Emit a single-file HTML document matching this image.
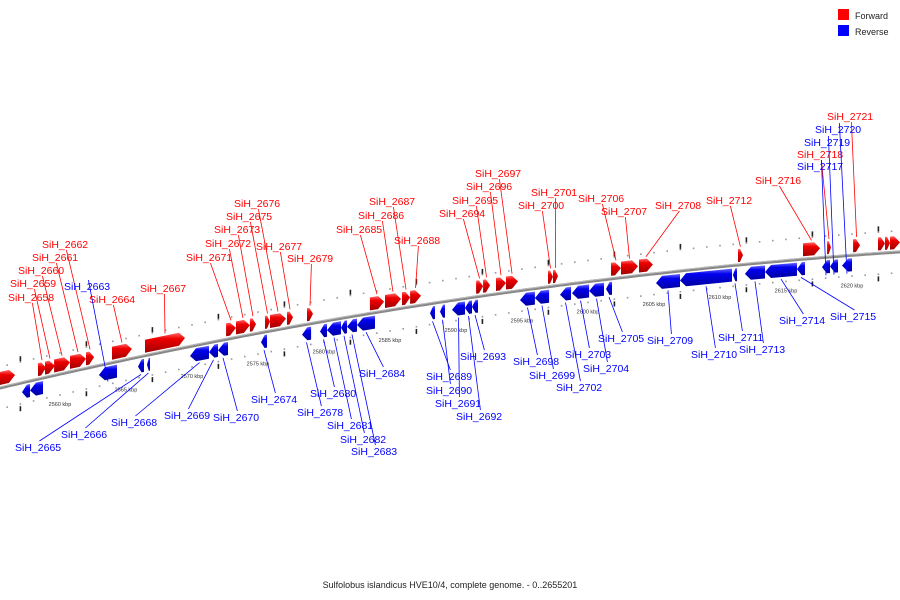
<!DOCTYPE html>
<html><head><meta charset="utf-8"><style>
html,body{margin:0;padding:0;background:#fff;}
svg{display:block;font-family:"Liberation Sans","DejaVu Sans",sans-serif;}
</style></head><body>
<svg id="map" width="900" height="600" viewBox="0 0 900 600">
<defs>
<linearGradient id="gr" x1="0" y1="0" x2="0" y2="1"><stop offset="0" stop-color="#ff6a6a"/><stop offset="0.3" stop-color="#ee0000"/><stop offset="1" stop-color="#a00000"/></linearGradient>
<linearGradient id="gb" x1="0" y1="0" x2="0" y2="1"><stop offset="0" stop-color="#6a6aff"/><stop offset="0.3" stop-color="#0000ee"/><stop offset="1" stop-color="#0000a0"/></linearGradient>
</defs>
<g>
<rect x="838" y="9" width="11" height="11" fill="#f00"/>
<text x="855" y="19" font-size="9" fill="#222">Forward</text>
<rect x="838" y="25" width="11" height="11" fill="#00f"/>
<text x="855" y="35" font-size="9" fill="#222">Reverse</text>
</g>
<text x="450" y="588" text-anchor="middle" font-size="9" fill="#222">Sulfolobus islandicus HVE10/4, complete genome. - 0..2655201</text>
</svg>
<script>
const geneNames=["","SiH_2658","SiH_2659","SiH_2660","SiH_2661","SiH_2662","SiH_2664","SiH_2667","SiH_2671","SiH_2672","SiH_2673","SiH_2675","SiH_2676","SiH_2677","SiH_2679","SiH_2685","SiH_2686","SiH_2687","SiH_2688","SiH_2694","SiH_2695","SiH_2696","SiH_2697","SiH_2700","SiH_2701","SiH_2706","SiH_2707","SiH_2708","SiH_2712","SiH_2716","SiH_2718","SiH_2721","","","",
"","","SiH_2663","SiH_2665","SiH_2666","SiH_2668","SiH_2669","SiH_2670","SiH_2674","SiH_2678","SiH_2680","SiH_2681","SiH_2682","SiH_2683","SiH_2684","SiH_2689","SiH_2690","SiH_2691","SiH_2692","SiH_2693","SiH_2698","SiH_2699","SiH_2702","SiH_2703","SiH_2704","SiH_2705","SiH_2709","SiH_2710","SiH_2711","SiH_2713","SiH_2714","SiH_2715","SiH_2717","SiH_2719","SiH_2720"];
const geneStrand=[1,1,1,1,1,1,1,1,1,1,1,1,1,1,1,1,1,1,1,1,1,1,1,1,1,1,1,1,1,1,1,1,1,1,1,
-1,-1,-1,-1,-1,-1,-1,-1,-1,-1,-1,-1,-1,-1,-1,-1,-1,-1,-1,-1,-1,-1,-1,-1,-1,-1,-1,-1,-1,-1,-1,-1,-1,-1,-1];
const geneStart=[2555.08,2558.33,2558.86,2559.55,2560.76,2561.97,2563.94,2566.44,2572.58,2573.33,2574.39,2575.53,2575.91,2577.2,2578.71,2583.48,2584.62,2585.91,2586.52,2591.52,2592.05,2593.03,2593.79,2596.97,2597.35,2601.74,2602.5,2603.86,2611.36,2616.29,2618.11,2620.08,2621.97,2622.5,2622.88,
2557.12,2557.73,2562.95,2565.91,2566.59,2569.85,2571.29,2571.97,2575.23,2578.33,2579.7,2580.23,2581.29,2581.74,2582.5,2588.03,2588.79,2589.7,2590.68,2591.21,2594.85,2595.98,2597.88,2598.79,2600.08,2601.36,2605.15,2606.97,2610.98,2611.89,2613.41,2615.83,2617.73,2618.33,2619.24];
const geneEnd=[2556.59,2558.94,2559.62,2560.76,2561.97,2562.58,2565.45,2569.47,2573.33,2574.39,2574.85,2575.91,2577.12,2577.65,2579.17,2584.55,2585.83,2586.52,2587.35,2592.05,2592.58,2593.79,2594.7,2597.35,2597.73,2602.5,2603.79,2604.92,2611.74,2617.58,2618.41,2620.61,2622.5,2622.88,2623.64,
2557.73,2558.71,2564.32,2566.36,2566.82,2571.29,2571.97,2572.73,2575.68,2579.02,2580.23,2581.29,2581.74,2582.5,2583.86,2588.41,2589.17,2590.68,2591.21,2591.67,2595.98,2597.05,2598.71,2600.08,2601.21,2601.82,2606.97,2610.91,2611.29,2613.41,2615.83,2616.44,2618.33,2618.94,2620];
const labelX=[0,8,10,18,32,42,89,140,186,205,214,226,234,256,287,336,358,369,394,439,452,466,475,518,531,578,601,655,706,755,797,827,0,0,0,
0,0,64,15,61,111,164,213,251,297,310,327,340,351,359,426,426,435,456,460,513,529,556,565,583,598,647,691,718,739,779,830,797,804,815];
const labelY=[0,297,283,270,257,244,299,288,257,243,229,216,203,246,258,229,215,201,240,213,200,186,173,205,192,198,211,205,200,180,154,116,0,0,0,
0,0,286,447,434,422,415,417,399,412,393,425,439,451,373,376,390,403,416,356,361,375,387,354,368,338,340,354,337,349,320,316,166,142,129];
const tickKbp=[2560,2565,2570,2575,2580,2585,2590,2595,2600,2605,2610,2615,2620];

const NS="http://www.w3.org/2000/svg";
const svg=document.getElementById('map');
function px(k){return 60+(k-2560)*13.2;}
function by(x){return 388-0.2367*x+0.000095*x*x;}
function mk(tag,attrs,parent){const e=document.createElementNS(NS,tag);for(const a in attrs)e.setAttribute(a,attrs[a]);(parent||svg).appendChild(e);return e;}

// backbone
const bb=mk('g',{});


let d='',d2='';
for(let x=-5;x<=905;x+=5){d+=(x==-5?'M':'L')+x+','+by(x).toFixed(1)+' ';}
mk('path',{d:d,stroke:'#888',fill:'none','stroke-width':3},bb);
mk('path',{d:d,stroke:'#bbb',fill:'none','stroke-width':1,transform:'translate(0,-1)'},bb);

// dotted rulers and ticks
const rl=mk('g',{});


for(let k=2555;k<=2624;k+=1){
  const x=px(k);const y=by(x);
  mk('rect',{x:x-0.8,y:y-22,width:1.6,height:1.6,fill:'#999'},rl);
  mk('rect',{x:x-0.8,y:y+20,width:1.6,height:1.6,fill:'#999'},rl);
  if(k%5==2){mk('rect',{x:x-0.8,y:y-27,width:1.6,height:5,fill:'#222'},rl);mk('rect',{x:x-0.8,y:y+23,width:1.6,height:5,fill:'#222'},rl);}
}
tickKbp.forEach(k=>{
  const x=px(k);const y=by(x);
  const t=mk('text',{x:x,y:y+32,'font-size':5.5,fill:'#333','text-anchor':'middle'},rl);
  t.textContent=k+' kbp';
  
  
});

// genes
for(let i=0;i<geneStart.length;i++){
  const x1=px(geneStart[i]),x2=px(geneEnd[i]);
  const fwd=geneStrand[i]>0;
  const g=mk('g',{});
  
  
  const y1=by(x1),y2=by(x2);
  const h=13,off=3;
  const head=Math.min(6,(x2-x1)*0.6);
  let pts;
  if(fwd){
    const t1=y1-off-h,t2=y2-off-h,xm=x2-head,ym=by(xm)-off-h;
    pts=[[x1,t1],[xm,ym],[x2,(t2+y2-off)/2],[xm,ym+h],[x1,y1-off]];
  } else {
    const xm=x1+head,ym=by(xm)+off;
    pts=[[x1,(y1+off+y1+off+h)/2],[xm,ym],[x2,y2+off],[x2,y2+off+h],[xm,ym+h]];
  }
  mk('polygon',{points:pts.map(p=>p[0].toFixed(1)+','+p[1].toFixed(1)).join(' '),fill:fwd?'url(#gr)':'url(#gb)'},g);
  if(geneNames[i]){
    const col=fwd?'#f00':'#00f';
    const lx=labelX[i],ly=labelY[i];
    const tw=geneNames[i].length*6.1;
    const gx=(x1+x2)/2;
    const gy=fwd?by(gx)-off-h-2:by(gx)+off+h+2;
    mk('line',{x1:lx+tw/2,y1:fwd?ly+6:ly-6,x2:gx,y2:gy,stroke:col,'stroke-width':0.8},g);
    const t=mk('text',{x:lx,y:ly+4,'font-size':10.5,fill:col},g);
    t.textContent=geneNames[i];
  }
}
</script>
</body></html>
